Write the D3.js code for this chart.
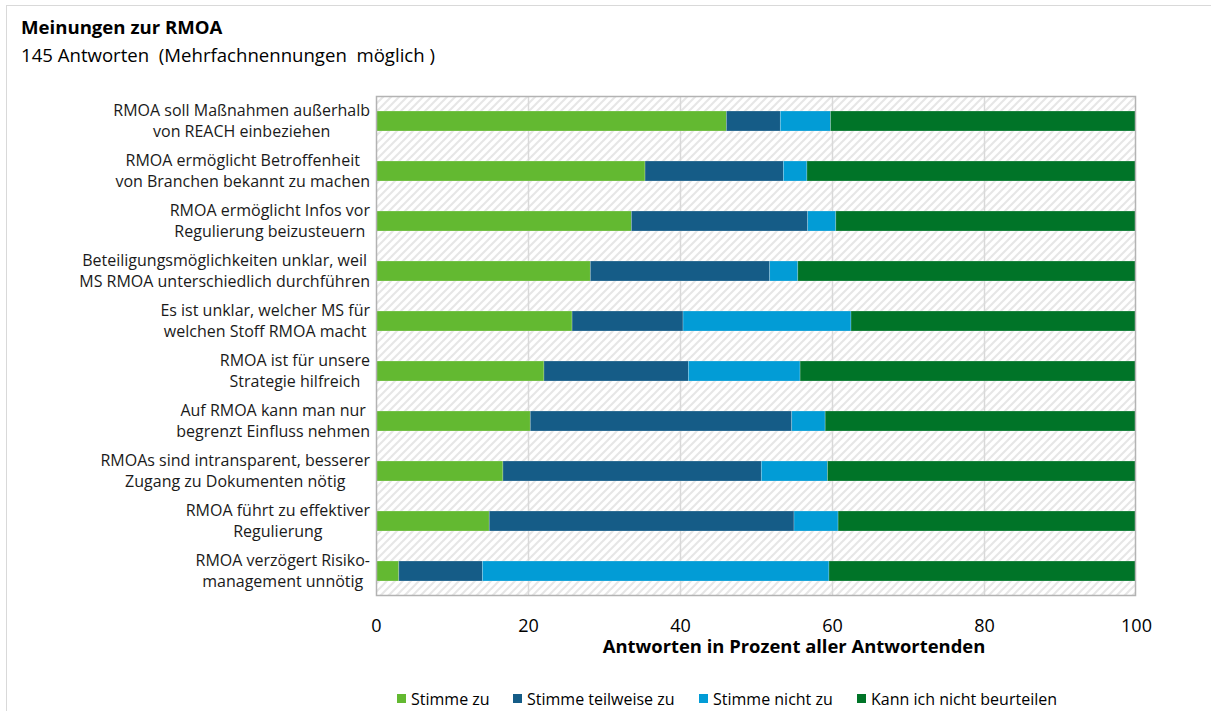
<!DOCTYPE html>
<html>
<head>
<meta charset="utf-8">
<script src="https://cdn.jsdelivr.net/npm/d3@7"></script>
<style>
  html, body { margin: 0; padding: 0; background: #ffffff; }
  svg { display: block; font-family: "Open Sans", Lato, sans-serif; }
</style>
</head>
<body>
<svg id="chart" width="1211" height="711"></svg>
<script>
// Statements (top to bottom), line breaks as displayed
const categories = [
  "RMOA soll Maßnahmen außerhalb\nvon REACH einbeziehen",
  "RMOA ermöglicht Betroffenheit\nvon Branchen bekannt zu machen",
  "RMOA ermöglicht Infos vor\nRegulierung beizusteuern",
  "Beteiligungsmöglichkeiten unklar, weil\nMS RMOA unterschiedlich durchführen",
  "Es ist unklar, welcher MS für\nwelchen Stoff RMOA macht",
  "RMOA ist für unsere\nStrategie hilfreich",
  "Auf RMOA kann man nur\nbegrenzt Einfluss nehmen",
  "RMOAs sind intransparent, besserer\nZugang zu Dokumenten nötig",
  "RMOA führt zu effektiver\nRegulierung",
  "RMOA verzögert Risiko-\nmanagement unnötig"
];

// Share of respondents per answer (percent)
const stimmeZu        = [46.1, 35.4, 33.6, 28.2, 25.8, 22.1, 20.3, 16.7, 14.9, 3.0];
const stimmeTeilweise = [ 7.1, 18.2, 23.2, 23.6, 14.6, 19.0, 34.4, 34.0, 40.1, 11.0];
const stimmeNicht     = [ 6.6,  3.1,  3.7,  3.7, 22.1, 14.7,  4.4,  8.7,  5.8, 45.6];
const kannNicht       = [40.2, 43.3, 39.5, 44.5, 37.5, 44.2, 40.9, 40.6, 39.2, 40.4];

const seriesNames = ["Stimme zu", "Stimme teilweise zu", "Stimme nicht zu", "Kann ich nicht beurteilen"];
const seriesColors = ["#63b931", "#155c87", "#029cd6", "#007428"];
const xTicks = [0, 20, 40, 60, 80, 100];

const titleText = "Meinungen zur RMOA";
const subtitleText = "145 Antworten  (Mehrfachnennungen  möglich )";
const xAxisTitle = "Antworten in Prozent aller Antwortenden";

const svg = d3.select("#chart");

const plot = { left: 376, right: 1136, top: 96, bottom: 596 };

// Outer chart frame
svg.append("rect")
  .attr("x", 6.5).attr("y", 5.5)
  .attr("width", 1260).attr("height", 760)
  .attr("fill", "none").attr("stroke", "#d9d9d9").attr("stroke-width", 1);

// Title block
svg.append("text").attr("x", 21).attr("y", 34)
  .attr("font-size", 18.6).attr("font-weight", "bold").attr("fill", "#000")
  .text(titleText);
svg.append("text").attr("x", 21).attr("y", 62)
  .attr("font-size", 18.6).attr("fill", "#000")
  .attr("xml:space", "preserve")
  .text(subtitleText);

// Scales
const x = d3.scaleLinear().domain([0, 100]).range([plot.left, plot.right]);
const y = d3.scaleBand().domain(categories).range([plot.top, plot.bottom]).paddingInner(0.6).paddingOuter(0.3);

// Hatched plot background
const defs = svg.append("defs");
const pat = defs.append("pattern")
  .attr("id", "hatch").attr("patternUnits", "userSpaceOnUse")
  .attr("width", 8).attr("height", 8);
pat.append("rect").attr("width", 8).attr("height", 8).attr("fill", "#ffffff");
pat.append("path")
  .attr("d", "M-2,2 l4,-4 M0,8 l8,-8 M6,10 l4,-4")
  .attr("stroke", "#e6e6e6").attr("stroke-width", 2);

svg.append("rect")
  .attr("x", plot.left).attr("y", plot.top)
  .attr("width", plot.right - plot.left).attr("height", plot.bottom - plot.top)
  .attr("fill", "url(#hatch)");

// Vertical gridlines
svg.append("g").selectAll("line")
  .data(xTicks.slice(1, -1))
  .join("line")
  .attr("x1", d => Math.round(x(d)) + 0.5).attr("x2", d => Math.round(x(d)) + 0.5)
  .attr("y1", plot.top).attr("y2", plot.bottom)
  .attr("stroke", "#d9d9d9").attr("stroke-width", 1.5);

// Stacked bars
const rows = categories.map((c, i) => ({
  cat: c,
  "Stimme zu": stimmeZu[i],
  "Stimme teilweise zu": stimmeTeilweise[i],
  "Stimme nicht zu": stimmeNicht[i],
  "Kann ich nicht beurteilen": kannNicht[i]
}));
const stacked = d3.stack().keys(seriesNames)(rows);

svg.append("g").selectAll("g")
  .data(stacked)
  .join("g")
  .attr("fill", (d, i) => seriesColors[i])
  .selectAll("rect")
  .data(d => d)
  .join("rect")
  .attr("x", d => x(d[0]))
  .attr("width", d => x(d[1]) - x(d[0]))
  .attr("y", d => y(d.data.cat))
  .attr("height", y.bandwidth())
  .attr("stroke", "rgba(255,255,255,0.3)")
  .attr("stroke-width", 0.75);

// Plot border
svg.append("rect")
  .attr("x", plot.left + 0.5).attr("y", plot.top + 0.5)
  .attr("width", plot.right - plot.left - 1).attr("height", plot.bottom - plot.top - 1)
  .attr("fill", "none").attr("stroke", "#b3b3b3").attr("stroke-width", 1.5);

// Category labels: two centred lines, block right-aligned to the plot
const labelFont = 16;
const labels = svg.append("g").attr("font-size", labelFont).attr("fill", "#1a1a1a");
categories.forEach(c => {
  const lines = c.split("\n");
  const cy = y(c) + y.bandwidth() / 2;
  const g = labels.append("g");
  const texts = lines.map((ln, k) =>
    g.append("text")
      .attr("y", cy + (k - (lines.length - 1) / 2) * 20.5 + 5.5)
      .attr("text-anchor", "middle")
      .text(ln));
  const maxW = d3.max(texts, t => t.node().getComputedTextLength());
  texts.forEach(t => t.attr("x", 370 - maxW / 2));
});

// X axis (labels only)
const xAxis = d3.axisBottom(x).tickValues(xTicks).tickSize(0).tickPadding(0).tickFormat(d3.format("d"));
const ax = svg.append("g")
  .attr("transform", `translate(0,${plot.bottom})`)
  .call(xAxis);
ax.select(".domain").remove();
ax.selectAll("text")
  .attr("dy", 0).attr("y", 36)
  .attr("font-size", 18).attr("font-family", "'Open Sans', Lato, sans-serif").attr("fill", "#000");

svg.append("text")
  .attr("x", 794).attr("y", 653)
  .attr("text-anchor", "middle")
  .attr("font-size", 18.4).attr("font-weight", "bold").attr("fill", "#000")
  .text(xAxisTitle);

// Legend
const legendX = [397, 513, 699, 857];
const legend = svg.append("g").attr("font-size", 16).attr("fill", "#000");
seriesNames.forEach((name, i) => {
  legend.append("rect")
    .attr("x", legendX[i]).attr("y", 694)
    .attr("width", 9).attr("height", 9)
    .attr("fill", seriesColors[i]);
  legend.append("text")
    .attr("x", legendX[i] + 14).attr("y", 704.5)
    .text(name);
});
</script>
</body>
</html>
